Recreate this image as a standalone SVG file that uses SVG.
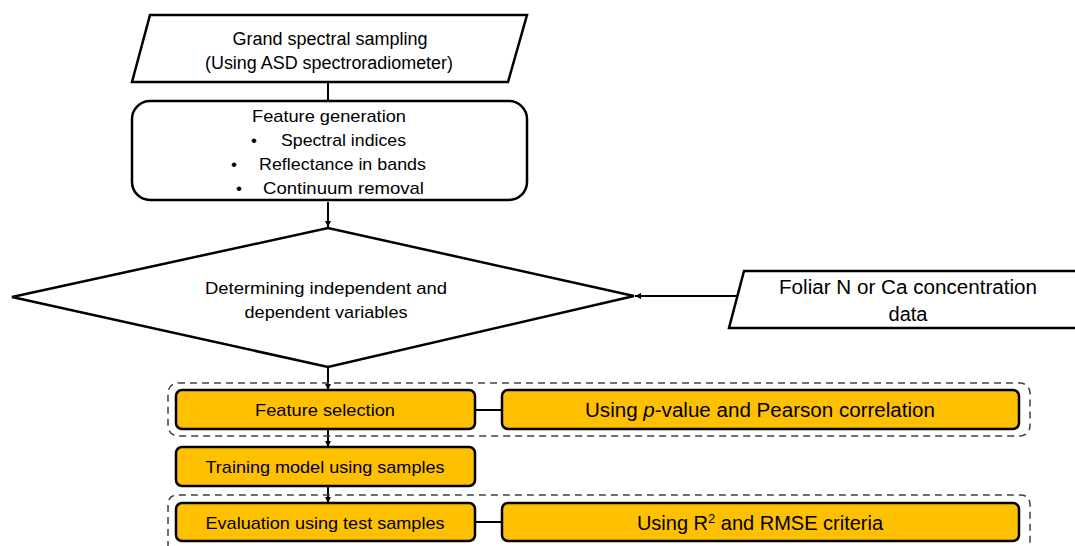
<svg xmlns="http://www.w3.org/2000/svg" width="1075" height="546" viewBox="0 0 1075 546">
<defs>
<style>
.sh{fill:#fff;stroke:#000;stroke-width:2.5;}
.gold{fill:#FFC000;stroke:#000;stroke-width:2.5;}
.dash{fill:none;stroke:#404040;stroke-width:1.5;stroke-dasharray:7,5;}
.ln{stroke:#000;stroke-width:2;fill:none;}
text{font-family:"Liberation Sans",Arial,sans-serif;fill:#000;text-anchor:middle;}
</style>
<marker id="ah" viewBox="0 0 10 10" refX="10" refY="5" markerWidth="6" markerHeight="6" orient="auto" markerUnits="userSpaceOnUse">
<path d="M0,0 L10,5 L0,10 z" fill="#000"/>
</marker>
</defs>
<rect width="1075" height="546" fill="#fff"/>
<g id="connectors">
<line class="ln" x1="328" y1="82" x2="328" y2="100"/>
<line class="ln" x1="328" y1="202" x2="328" y2="227" marker-end="url(#ah)"/>
<line class="ln" x1="738" y1="296" x2="635" y2="296" marker-end="url(#ah)"/>
<line class="ln" x1="328" y1="368" x2="328" y2="390" marker-end="url(#ah)"/>
<line class="ln" x1="328" y1="429" x2="328" y2="447" marker-end="url(#ah)"/>
<line class="ln" x1="328" y1="486" x2="328" y2="503" marker-end="url(#ah)"/>
<line class="ln" x1="475" y1="410" x2="502" y2="410"/>
<line class="ln" x1="475" y1="522" x2="502" y2="522"/>
</g>
<g id="groups">
<rect class="dash" x="168" y="383" width="862" height="53" rx="10"/>
<path class="dash" d="M168,560 V505 Q168,495 178,495 H1020 Q1030,495 1030,505 V560"/>
</g>
<g id="sampling">
<polygon class="sh" points="150,15 527,15 508,82 132,82"/>
<text x="330" y="45" font-size="18" textLength="195" lengthAdjust="spacingAndGlyphs">Grand spectral sampling</text>
<text x="329" y="69" font-size="18" textLength="248" lengthAdjust="spacingAndGlyphs">(Using ASD spectroradiometer)</text>
</g>
<g id="feature-generation">
<rect class="sh" x="132" y="101" width="395" height="99" rx="18"/>
<text x="329" y="122" font-size="17" textLength="154" lengthAdjust="spacingAndGlyphs">Feature generation</text>
<text x="254" y="146" font-size="17">•</text>
<text x="343.5" y="146" font-size="17" textLength="125" lengthAdjust="spacingAndGlyphs">Spectral indices</text>
<text x="234" y="170" font-size="17">•</text>
<text x="342.5" y="170" font-size="17" textLength="167" lengthAdjust="spacingAndGlyphs">Reflectance in bands</text>
<text x="239" y="194" font-size="17">•</text>
<text x="343.5" y="194" font-size="17" textLength="161" lengthAdjust="spacingAndGlyphs">Continuum removal</text>
</g>
<g id="decision">
<polygon class="sh" points="12,297 328,228 634,296 328,367"/>
<text x="326" y="294" font-size="17" textLength="242" lengthAdjust="spacingAndGlyphs">Determining independent and</text>
<text x="326" y="318" font-size="17" textLength="163" lengthAdjust="spacingAndGlyphs">dependent variables</text>
</g>
<g id="foliar-data">
<polygon class="sh" points="744,271 1078,271 1078,328 729,328"/>
<text x="908" y="294" font-size="20" textLength="258" lengthAdjust="spacingAndGlyphs">Foliar N or Ca concentration</text>
<text x="908" y="321" font-size="20">data</text>
</g>
<g id="feature-selection">
<rect class="gold" x="176" y="390" width="299" height="39" rx="6"/>
<text x="325" y="416" font-size="17" textLength="140" lengthAdjust="spacingAndGlyphs">Feature selection</text>
</g>
<g id="pvalue">
<rect class="gold" x="502" y="390" width="517" height="39" rx="6"/>
<text x="760" y="417" font-size="20" textLength="350" lengthAdjust="spacingAndGlyphs">Using <tspan font-style="italic">p</tspan>-value and Pearson correlation</text>
</g>
<g id="training">
<rect class="gold" x="176" y="447" width="299" height="39" rx="6"/>
<text x="325" y="473" font-size="17" textLength="239" lengthAdjust="spacingAndGlyphs">Training model using samples</text>
</g>
<g id="evaluation">
<rect class="gold" x="176" y="503" width="299" height="38" rx="6"/>
<text x="325" y="529" font-size="17" textLength="239" lengthAdjust="spacingAndGlyphs">Evaluation using test samples</text>
</g>
<g id="r2">
<rect class="gold" x="502" y="503" width="517" height="38" rx="6"/>
<text x="760" y="530" font-size="20">Using R<tspan font-size="13" dy="-7">2</tspan><tspan dy="7"> and RMSE criteria</tspan></text>
</g>
</svg>
